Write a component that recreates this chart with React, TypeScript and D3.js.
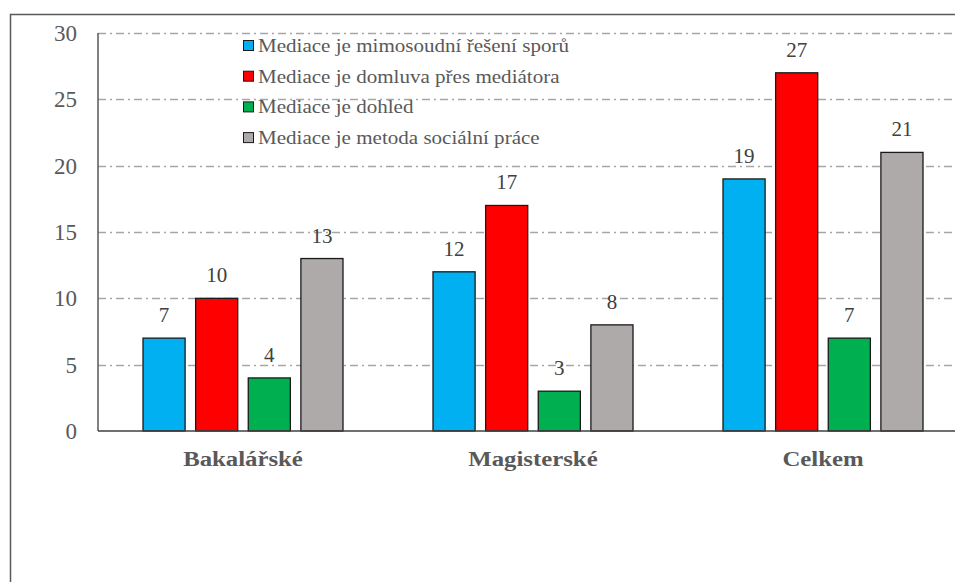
import React, { useEffect, useRef } from 'react';
import * as d3 from 'd3';

const categories = ['Bakalářské', 'Magisterské', 'Celkem'];
const seriesNames = [
  'Mediace je mimosoudní řešení sporů',
  'Mediace je domluva přes mediátora',
  'Mediace je dohled',
  'Mediace je metoda sociální práce',
];
const seriesColors = ['#00b0f0', '#ff0000', '#00b050', '#aeaaaa'];
const mimosoudni = [7, 12, 19];
const domluva = [10, 17, 27];
const dohled = [4, 3, 7];
const metoda = [13, 8, 21];
const yTicks = [0, 5, 10, 15, 20, 25, 30];

const W = 955;
const H = 582;
const margin = { top: 33, left: 98, bottom: 151 };
const plotRight = 968;
const FONT = 'Liberation Serif';

const App = () => {
  const svgRef = useRef<SVGSVGElement | null>(null);

  useEffect(() => {
    const svg = d3.select(svgRef.current);
    svg.selectAll('*').remove();

    const values = [mimosoudni, domluva, dohled, metoda];
    const y0 = H - margin.bottom;

    const x = d3.scaleBand<string>().domain(categories).range([margin.left, plotRight]).padding(0);
    const inner = d3
      .scaleBand<number>()
      .domain(d3.range(seriesNames.length))
      .range([0, 200])
      .paddingInner(0.2);
    const groupOffset = (x.bandwidth() - 200) / 2;
    const y = d3.scaleLinear().domain([0, 30]).range([y0, margin.top]);

    // legend + category text is a bit wider in the original
    const at = (px: number, py: number, sx = 1) => `translate(${px},${py}) scale(${sx},1)`;

    // outer frame
    svg
      .append('path')
      .attr('d', `M10.5,${H} L10.5,14.5 L${W},14.5`)
      .attr('fill', 'none')
      .attr('stroke', '#595959')
      .attr('stroke-width', 1.5);

    // gridlines
    svg
      .append('g')
      .selectAll('line')
      .data(yTicks.filter((t) => t > 0))
      .enter()
      .append('line')
      .attr('x1', margin.left)
      .attr('x2', W)
      .attr('y1', (d) => Math.round(y(d)) + 0.5)
      .attr('y2', (d) => Math.round(y(d)) + 0.5)
      .attr('stroke', '#a6a6a6')
      .attr('stroke-width', 1.3)
      .attr('stroke-dasharray', '8,4,2,4');

    // y tick labels
    svg
      .append('g')
      .selectAll('text')
      .data(yTicks)
      .enter()
      .append('text')
      .attr('transform', (d) => at(77, y(d)))
      .attr('dy', '0.35em')
      .attr('text-anchor', 'end')
      .style('font-family', FONT)
      .style('font-size', '23px')
      .attr('fill', '#595959')
      .text((d) => d);

    // bars
    values.forEach((vals, si) => {
      const g = svg.append('g');
      g.selectAll('rect')
        .data(vals)
        .enter()
        .append('rect')
        .attr('x', (d, i) => x(categories[i])! + groupOffset + inner(si)!)
        .attr('y', (d) => y(d))
        .attr('width', inner.bandwidth())
        .attr('height', (d) => y0 - y(d))
        .attr('fill', seriesColors[si])
        .attr('stroke', '#1a1a1a')
        .attr('stroke-width', 1.3);
      g.selectAll('text')
        .data(vals)
        .enter()
        .append('text')
        .attr('transform', (d, i) =>
          at(x(categories[i])! + groupOffset + inner(si)! + inner.bandwidth() / 2, y(d) - 16),
        )
        .attr('text-anchor', 'middle')
        .style('font-family', FONT)
        .style('font-size', '21px')
        .attr('fill', '#404040')
        .text((d) => d);
    });

    // axes
    svg
      .append('line')
      .attr('x1', margin.left)
      .attr('x2', margin.left)
      .attr('y1', margin.top)
      .attr('y2', y0)
      .attr('stroke', '#595959')
      .attr('stroke-width', 1.5);
    svg
      .append('line')
      .attr('x1', margin.left)
      .attr('x2', W)
      .attr('y1', y0)
      .attr('y2', y0)
      .attr('stroke', '#404040')
      .attr('stroke-width', 1.5);

    // category labels
    svg
      .append('g')
      .selectAll('text')
      .data(categories)
      .enter()
      .append('text')
      .attr('transform', (d) => at(x(d)! + x.bandwidth() / 2, y0 + 35, 1.18))
      .attr('text-anchor', 'middle')
      .style('font-family', FONT)
      .style('font-size', '21px')
      .style('font-weight', 'bold')
      .attr('fill', '#595959')
      .text((d) => d);

    // legend
    const legend = svg
      .append('g')
      .selectAll('g')
      .data(seriesNames)
      .enter()
      .append('g')
      .attr('transform', (d, i) => `translate(243,${45.5 + i * 30.7})`);
    legend
      .append('rect')
      .attr('x', 0.5)
      .attr('y', -5)
      .attr('width', 10)
      .attr('height', 10)
      .attr('fill', (d, i) => seriesColors[i])
      .attr('stroke', '#1a1a1a')
      .attr('stroke-width', 1);
    legend
      .append('text')
      .attr('transform', at(15, 0, 1.17))
      .attr('dy', '0.35em')
      .style('font-family', FONT)
      .style('font-size', '18px')
      .attr('fill', '#595959')
      .text((d) => d);
  }, []);

  return (
    <svg
      ref={svgRef}
      width={W}
      height={H}
      style={{ position: 'absolute', left: 0, top: 0, background: '#fff' }}
    />
  );
};

export default App;
